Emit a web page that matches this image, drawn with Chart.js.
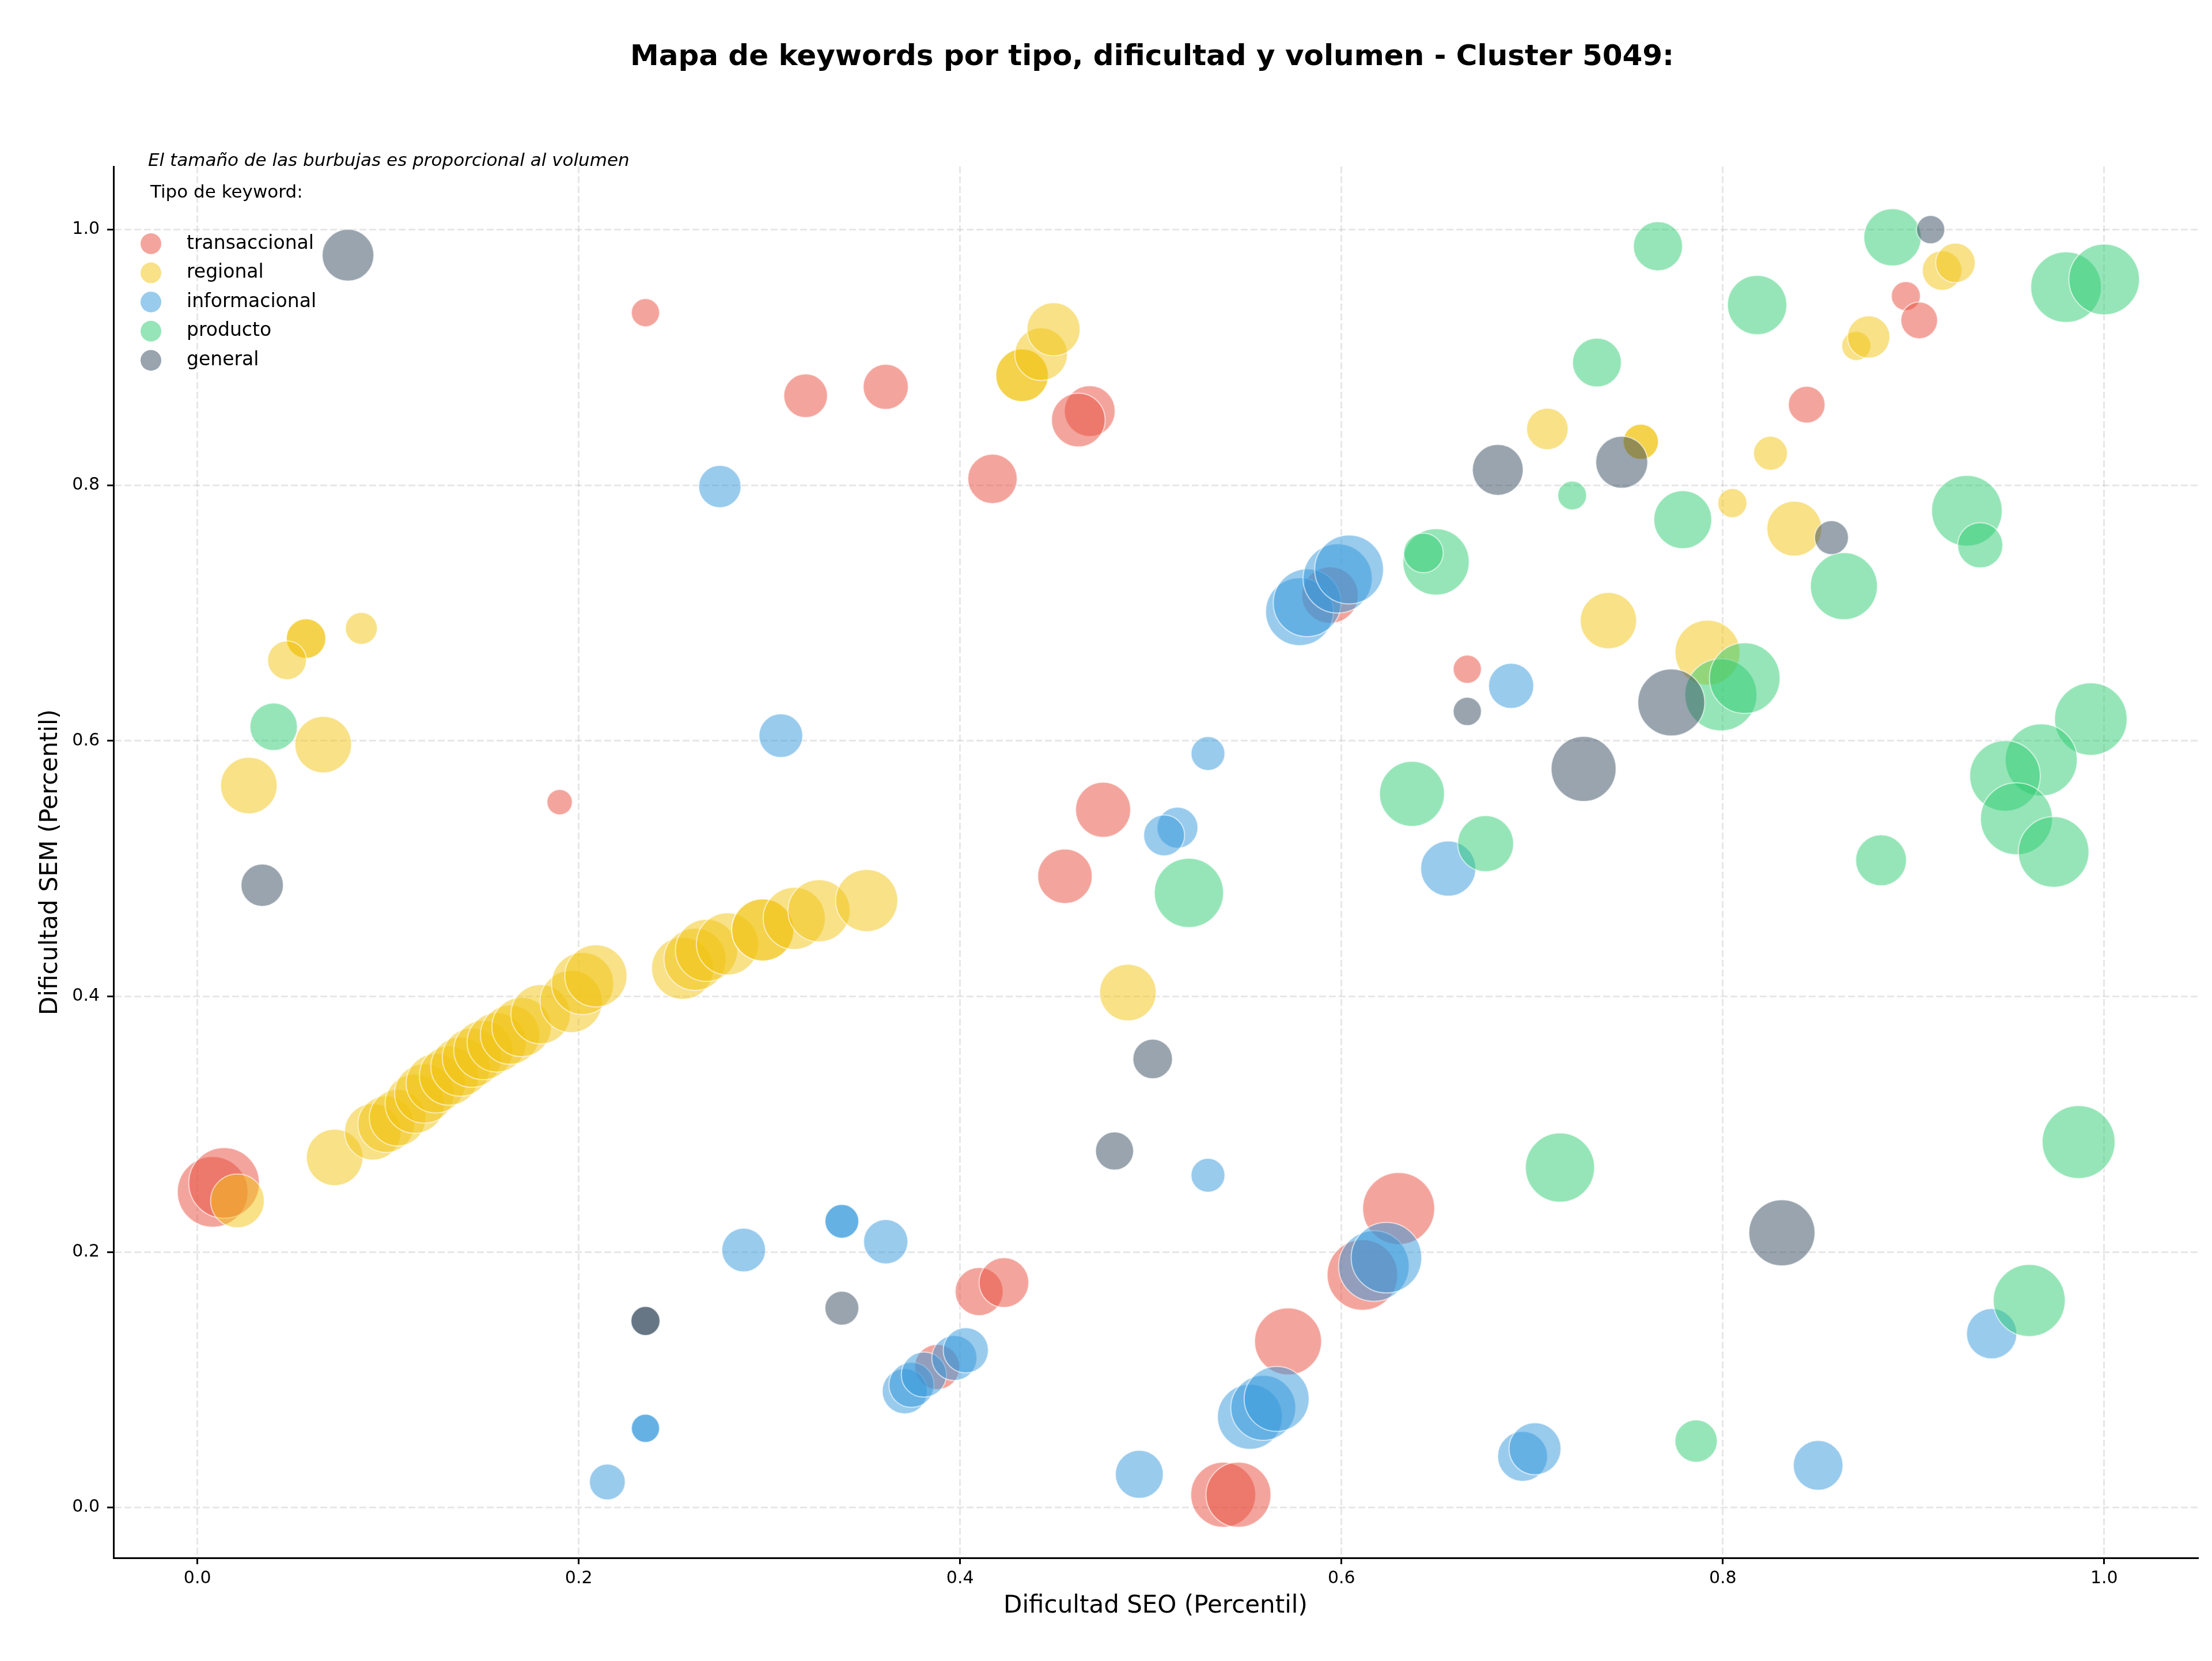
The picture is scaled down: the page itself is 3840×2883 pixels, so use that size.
<!DOCTYPE html>
<html>
<head>
<meta charset="utf-8">
<script src="https://cdn.jsdelivr.net/npm/chart.js@4.4.1/dist/chart.umd.min.js"></script>
<style>
  html, body { margin: 0; padding: 0; background: #fff; }
  #wrap { width: 3840px; height: 2883px; }
</style>
</head>
<body>
<div id="wrap"><canvas id="chart" width="3840" height="2883"></canvas></div>
<script>
// Tipos de keyword y colores
const tipos = ['transaccional', 'regional', 'informacional', 'producto', 'general'];
const colores = ['#e74c3c', '#f1c40f', '#3498db', '#2ecc71', '#34495e'];

// transaccional
const transX = [0.235, 0.319, 0.361, 0.468, 0.462, 0.417, 0.190, 0.475, 0.455, 0.008, 0.014, 0.666, 0.844, 0.896, 0.903, 0.594, 0.410, 0.423, 0.630, 0.611, 0.572, 0.538, 0.546, 0.388];
const transY = [0.935, 0.870, 0.877, 0.858, 0.851, 0.805, 0.552, 0.546, 0.494, 0.247, 0.254, 0.656, 0.863, 0.948, 0.929, 0.714, 0.169, 0.176, 0.234, 0.182, 0.130, 0.010, 0.010, 0.110];
const transVol = [1000, 2400, 2560, 3240, 3610, 3060, 810, 3800, 3720, 6250, 6250, 1000, 1690, 1060, 1690, 4000, 2890, 3100, 6500, 6250, 5620, 5290, 5290, 2560];

// regional
const regX = [0.057, 0.057, 0.047, 0.086, 0.066, 0.027, 0.021, 0.072,
  0.092, 0.099, 0.105, 0.114, 0.119, 0.125, 0.132, 0.138, 0.144, 0.150, 0.157, 0.164, 0.170, 0.180, 0.196, 0.202, 0.209,
  0.2545, 0.261, 0.267, 0.278, 0.2965, 0.2965, 0.313, 0.326, 0.351,
  0.488, 0.4325, 0.4325, 0.4425, 0.449, 0.708, 0.757, 0.757, 0.825, 0.805, 0.8375, 0.740, 0.792, 0.870, 0.8765, 0.915, 0.922];
const regY = [0.680, 0.680, 0.663, 0.688, 0.597, 0.565, 0.240, 0.274,
  0.294, 0.300, 0.305, 0.316, 0.324, 0.332, 0.338, 0.345, 0.352, 0.358, 0.364, 0.370, 0.376, 0.386, 0.396, 0.410, 0.416,
  0.422, 0.429, 0.436, 0.441, 0.452, 0.452, 0.461, 0.467, 0.475,
  0.403, 0.886, 0.886, 0.9025, 0.922, 0.844, 0.834, 0.834, 0.825, 0.786, 0.766, 0.694, 0.669, 0.909, 0.916, 0.968, 0.974];
const regVol = [1960, 1960, 1880, 1280, 4000, 4000, 3610, 4000,
  4000, 4000, 4000, 4410, 4410, 4410, 4410, 4410, 4410, 4410, 4410, 4410, 4410, 4410, 4840, 4840, 4840,
  4840, 4840, 4840, 4840, 4840, 4840, 4840, 4840, 4840,
  4000, 3460, 3460, 3460, 3530, 2160, 1560, 1560, 1440, 1060, 3760, 3960, 5290, 1060, 2250, 1960, 1960];

// informacional
const infoX = [0.274, 0.306, 0.530, 0.514, 0.507, 0.656, 0.689, 0.578, 0.582, 0.598, 0.604,
  0.2865, 0.338, 0.338, 0.361, 0.235, 0.235, 0.215, 0.371, 0.3745, 0.381, 0.397, 0.403,
  0.494, 0.530, 0.552, 0.559, 0.566, 0.617, 0.6236, 0.695, 0.7015, 0.850, 0.941];
const infoY = [0.799, 0.604, 0.590, 0.532, 0.526, 0.500, 0.643, 0.701, 0.708, 0.727, 0.734,
  0.2015, 0.224, 0.224, 0.208, 0.062, 0.062, 0.020, 0.091, 0.096, 0.104, 0.117, 0.123,
  0.026, 0.260, 0.071, 0.078, 0.085, 0.189, 0.1955, 0.040, 0.046, 0.033, 0.136];
const infoVol = [2250, 2400, 1440, 2100, 2100, 3800, 2560, 5760, 5760, 6000, 5950,
  2400, 1440, 1440, 2460, 1000, 1000, 1610, 2560, 2560, 2560, 2560, 2560,
  2890, 1440, 5290, 5290, 5290, 6250, 6250, 3130, 3390, 3100, 3170];

// producto
const prodX = [0.040, 0.520, 0.637, 0.6756, 0.6496, 0.643, 0.766, 0.818, 0.734, 0.721, 0.779, 0.8635, 0.889, 0.980, 1.000,
  0.928, 0.935, 0.799, 0.8115, 0.993, 0.967, 0.948, 0.954, 0.9735, 0.883, 0.9866, 0.9607, 0.7146, 0.786];
const prodY = [0.611, 0.481, 0.5585, 0.5195, 0.740, 0.747, 0.987, 0.941, 0.896, 0.792, 0.773, 0.721, 0.994, 0.955, 0.961,
  0.780, 0.753, 0.636, 0.649, 0.617, 0.585, 0.5725, 0.539, 0.513, 0.5065, 0.286, 0.162, 0.266, 0.052];
const prodVol = [2820, 6000, 5290, 3920, 5520, 1960, 3030, 4410, 2990, 1040, 4200, 5620, 4120, 6250, 6250,
  6250, 2560, 6500, 6250, 6600, 6500, 6250, 6500, 6250, 3240, 6660, 6500, 6000, 2250];

// general
const genX = [0.079, 0.034, 0.682, 0.747, 0.857, 0.909, 0.666, 0.773, 0.727, 0.501, 0.481, 0.831, 0.338, 0.235, 0.235];
const genY = [0.980, 0.487, 0.812, 0.818, 0.759, 1.000, 0.623, 0.630, 0.578, 0.351, 0.279, 0.215, 0.156, 0.146, 0.146];
const genVol = [3350, 2250, 3240, 3390, 1440, 1000, 1000, 5620, 5290, 1960, 1820, 5480, 1440, 1060, 1060];

// ticks
const ticksEjes = [0.0, 0.2, 0.4, 0.6, 0.8, 1.0];

const series = [
  [transX, transY, transVol],
  [regX, regY, regVol],
  [infoX, infoY, infoVol],
  [prodX, prodY, prodVol],
  [genX, genY, genVol]
];

const FONT = "'DejaVu Sans', sans-serif";
Chart.defaults.font.family = FONT;
Chart.defaults.color = '#000';

function conAlpha(hex, a) {
  const n = parseInt(hex.slice(1), 16);
  return `rgba(${(n >> 16) & 255}, ${(n >> 8) & 255}, ${n & 255}, ${a})`;
}

// radio de la burbuja proporcional a la raiz del volumen (area ~ volumen)
const radio = vol => Math.sqrt(vol) * 0.7745;

const datasets = tipos.map((tipo, i) => {
  const [xs, ys, vols] = series[i];
  return {
    label: tipo,
    data: xs.map((x, j) => ({ x: x, y: ys[j], r: radio(vols[j]) })),
    backgroundColor: conAlpha(colores[i], 0.5),
    borderColor: 'rgba(255, 255, 255, 0.6)',
    borderWidth: 2,
    hoverRadius: 0,
    order: tipos.length - i
  };
});

// titulo, nota y leyenda dibujados a mano
const textosPlugin = {
  id: 'textos',
  afterDraw(chart) {
    const ctx = chart.ctx;
    ctx.save();
    ctx.fillStyle = '#000';
    ctx.textBaseline = 'middle';

    ctx.font = `bold 50px ${FONT}`;
    ctx.textAlign = 'center';
    ctx.fillText('Mapa de keywords por tipo, dificultad y volumen - Cluster 5049:', 2000, 100);

    ctx.textAlign = 'left';
    ctx.font = `italic 31px ${FONT}`;
    ctx.fillText('El tamaño de las burbujas es proporcional al volumen', 257, 280);

    ctx.font = `31px ${FONT}`;
    ctx.fillText('Tipo de keyword:', 261, 335);

    ctx.font = `33px ${FONT}`;
    chart.data.datasets.forEach((ds, i) => {
      const y = 423 + i * 50.6;
      ctx.beginPath();
      ctx.arc(262, y, 18, 0, Math.PI * 2);
      ctx.fillStyle = ds.backgroundColor;
      ctx.fill();
      ctx.fillStyle = '#000';
      ctx.fillText(ds.label, 324, y);
    });
    ctx.restore();
  }
};

const gridComun = {
  color: 'rgba(176, 176, 176, 0.3)',
  lineWidth: 3,
  tickColor: '#000',
  tickWidth: 3,
  tickLength: 11,
  tickBorderDash: []
};

new Chart(document.getElementById('chart'), {
  type: 'bubble',
  data: { datasets: datasets },
  options: {
    responsive: false,
    devicePixelRatio: 1,
    animation: false,
    events: [],
    layout: { autoPadding: false, padding: { top: 289, right: 25, left: 0, bottom: 0 } },
    plugins: {
      legend: { display: false },
      tooltip: { enabled: false }
    },
    scales: {
      x: {
        type: 'linear',
        min: -0.044,
        max: 1.049,
        afterFit: s => { s.height = 179; },
        afterBuildTicks: s => { s.ticks = ticksEjes.map(v => ({ value: v })); },
        ticks: { callback: v => v.toFixed(1), font: { size: 30 }, padding: 7, color: '#000', maxRotation: 0 },
        grid: gridComun,
        border: { display: true, color: '#000', width: 3, dash: [12, 5] },
        title: { display: true, text: 'Dificultad SEO (Percentil)', font: { size: 42 }, color: '#000', padding: { top: 0, bottom: 70 } }
      },
      y: {
        type: 'linear',
        min: -0.0394,
        max: 1.0494,
        afterFit: s => { s.width = 197; },
        afterBuildTicks: s => { s.ticks = ticksEjes.map(v => ({ value: v })); },
        ticks: { callback: v => v.toFixed(1), font: { size: 30 }, padding: 13, color: '#000' },
        grid: gridComun,
        border: { display: true, color: '#000', width: 3, dash: [12, 5] },
        title: { display: true, text: 'Dificultad SEM (Percentil)', font: { size: 42 }, color: '#000', padding: { top: 63, bottom: 0 } }
      }
    }
  },
  plugins: [textosPlugin]
});
</script>
</body>
</html>
